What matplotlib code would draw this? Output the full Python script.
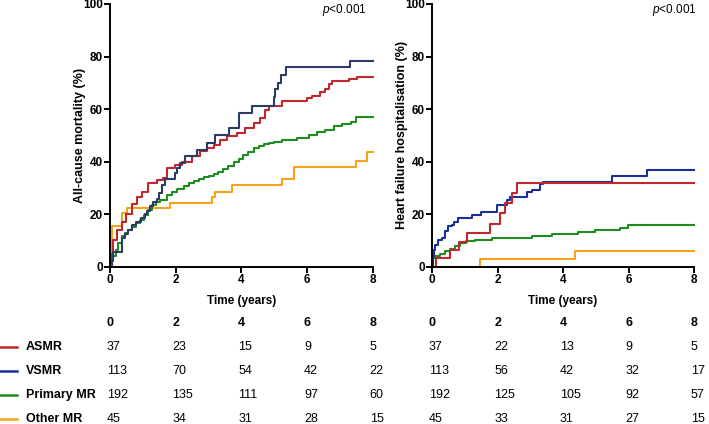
import matplotlib
matplotlib.use("Agg")
import matplotlib.pyplot as plt
from matplotlib.lines import Line2D
import matplotlib.transforms as mtransforms

plt.rcParams['font.family'] = ['Liberation Sans', 'DejaVu Sans']
plt.rcParams['mathtext.fontset'] = 'custom'
plt.rcParams['mathtext.it'] = 'Liberation Sans:italic'
plt.rcParams['mathtext.rm'] = 'Liberation Sans'

# ---------------- data ----------------
groups = ["ASMR", "VSMR", "Primary MR", "Other MR"]
colors_left = ["#C1272D", "#2B3B66", "#1E8C1E", "#F7A21B"]
colors_right = ["#C1272D", "#1A2F9C", "#1E8C1E", "#F7A21B"]

# All-cause mortality (%)
asmr_mort_t = [0, 0.03, 0.1, 0.2, 0.35, 0.5, 0.66, 0.82, 0.97, 1.17, 1.42, 1.62, 1.73, 1.98, 2.19, 2.5,
               2.75, 2.95, 3.15, 3.35, 3.55, 3.86, 4.1, 4.37, 4.55, 4.7, 4.83, 5.23, 6.0, 6.15, 6.4, 6.55,
               6.66, 6.76, 7.27, 7.52, 8.0]
asmr_mort_v = [0, 5, 10, 14, 17, 20, 24, 26.7, 28.6, 31.8, 33, 33.7, 37.6, 38.6, 40, 42,
               44, 45.2, 46.4, 48.4, 49.6, 51, 52.8, 54.7, 56.6, 59.8, 61.3, 63, 64.3, 64.8, 66.4, 67.6,
               69.5, 70.8, 71.5, 72.2, 72.2]

vsmr_mort_t = [0, 0.05, 0.1, 0.36, 0.45, 0.55, 0.66, 0.8, 0.95, 1.05, 1.12, 1.22, 1.32, 1.42, 1.5, 1.58,
               1.68, 1.98, 2.05, 2.13, 2.29, 2.64, 2.95, 3.2, 3.61, 3.91, 4.32, 4.98, 5.03, 5.1, 5.2, 5.35,
               7.29, 8.0]
vsmr_mort_v = [0, 2, 5.5, 11, 12.5, 14, 16, 17.2, 18.6, 20, 21.1, 23, 24.5, 25.6, 28, 31,
               33.5, 35.6, 37.5, 39.4, 42, 44.5, 47, 50.3, 52.8, 58.5, 61.2, 64.5, 67.5, 70, 73, 75.9,
               78.3, 78.3]

prim_mort_t = [0, 0.03, 0.1, 0.18, 0.25, 0.36, 0.45, 0.55, 0.66, 0.8, 0.9, 1.02, 1.15, 1.27, 1.4, 1.52,
               1.73, 1.88, 2.05, 2.26, 2.4, 2.54, 2.7, 2.85, 3.0, 3.15, 3.3, 3.45, 3.6, 3.76, 3.91, 4.06,
               4.2, 4.37, 4.52, 4.68, 4.83, 5.0, 5.23, 5.69, 6.05, 6.3, 6.55, 6.81, 7.05, 7.32, 7.47, 8.0]
prim_mort_v = [0, 2, 4, 6.4, 8.9, 11.5, 13, 14, 15.3, 16.6, 17.8, 19.7, 21.6, 23.5, 24.5, 25.5,
               27.2, 28.3, 29.5, 30.7, 31.8, 32.7, 33.3, 34.1, 34.6, 35.4, 36.2, 37.3, 38.4, 39.7, 41.1, 42.5,
               43.8, 45.0, 46.0, 46.8, 47.1, 47.5, 48.4, 49.0, 50.3, 51.2, 52.2, 53.4, 54.5, 55.0, 57.0, 57.0]

other_mort_t = [0, 0.02, 0.06, 0.36, 0.51, 1.83, 3.1, 3.2, 3.72, 5.23, 5.59, 7.47, 7.83, 8.0]
other_mort_v = [0, 10, 15.5, 20.4, 22.3, 24.4, 26.7, 28.6, 31.2, 33.3, 37.9, 40.1, 43.5, 43.5]

# Heart failure hospitalisation (%)
asmr_hf_t = [0, 0.13, 0.56, 0.81, 1.07, 1.78, 2.08, 2.24, 2.44, 2.59, 8.0]
asmr_hf_v = [0, 3.2, 6.4, 9.5, 12.8, 16.3, 20.4, 24.2, 28, 32.0, 32.0]

vsmr_hf_t = [0, 0.02, 0.05, 0.1, 0.19, 0.3, 0.4, 0.5, 0.6, 0.66, 0.8, 1.21, 1.51, 1.97, 2.28, 2.38,
             2.9, 3.05, 3.29, 3.4, 5.49, 6.57, 8.0]
vsmr_hf_v = [0, 3.8, 6.4, 8.3, 10.2, 11, 13.4, 15.4, 16, 17.2, 18.6, 19.8, 21, 23.5, 25.4, 26.7,
             28.3, 29.3, 31.3, 32.4, 34.6, 36.7, 36.7]

prim_hf_t = [0, 0.03, 0.1, 0.25, 0.4, 0.55, 0.7, 0.85, 1.05, 1.3, 1.82, 3.04, 3.65, 4.47, 4.98, 5.74, 5.99, 8.0]
prim_hf_v = [0, 3.2, 4.1, 4.9, 5.9, 6.9, 7.9, 9.0, 9.8, 10.3, 10.9, 11.7, 12.4, 13.1, 14.0, 14.9, 15.9, 15.9]

other_hf_t = [0, 1.47, 4.37, 8.0]
other_hf_v = [0, 2.9, 6.0, 6.0]

# Numbers at risk
risk_times = [0, 2, 4, 6, 8]
risk_mort = {
    "ASMR": [37, 23, 15, 9, 5],
    "VSMR": [113, 70, 54, 42, 22],
    "Primary MR": [192, 135, 111, 97, 60],
    "Other MR": [45, 34, 31, 28, 15],
}
risk_hf = {
    "ASMR": [37, 22, 13, 9, 5],
    "VSMR": [113, 56, 42, 32, 17],
    "Primary MR": [192, 125, 105, 92, 57],
    "Other MR": [45, 33, 31, 27, 15],
}

xticks = [0, 2, 4, 6, 8]
yticks = [0, 20, 40, 60, 80, 100]

# ---------------- figure ----------------
W, H = 709, 424
fig = plt.figure(figsize=(W / 100, H / 100), dpi=100)

def px_axes(x0, x1, ytop, ybot):
    return [x0 / W, 1 - ybot / H, (x1 - x0) / W, (ybot - ytop) / H]

ax1 = fig.add_axes(px_axes(110, 373, 4, 266.7))
ax2 = fig.add_axes(px_axes(432, 694, 4, 266.7))

mort_series = [(asmr_mort_t, asmr_mort_v), (vsmr_mort_t, vsmr_mort_v),
               (prim_mort_t, prim_mort_v), (other_mort_t, other_mort_v)]
hf_series = [(asmr_hf_t, asmr_hf_v), (vsmr_hf_t, vsmr_hf_v),
             (prim_hf_t, prim_hf_v), (other_hf_t, other_hf_v)]

for i in [3, 2, 0, 1]:
    t, v = mort_series[i]
    ax1.step(t, v, where='post', color=colors_left[i], lw=1.5, clip_on=False)
for i in [3, 2, 1, 0]:
    t, v = hf_series[i]
    ax2.step(t, v, where='post', color=colors_right[i], lw=1.5, clip_on=False)

for ax, ylabel in [(ax1, "All-cause mortality (%)"), (ax2, "Heart failure hospitalisation (%)")]:
    ax.set_xlim(0, 8)
    ax.set_ylim(0, 100)
    ax.set_xticks(xticks)
    ax.set_yticks(yticks)
    for s in ['top', 'right']:
        ax.spines[s].set_visible(False)
    for s in ['left', 'bottom']:
        ax.spines[s].set_linewidth(1.4)
    ax.tick_params(width=1.4, length=4.5, labelsize=8.5)
    ax.tick_params(axis='y', pad=0.5)
    ax.tick_params(axis='x', pad=1)
    for lab in ax.get_xticklabels() + ax.get_yticklabels():
        lab.set_fontweight('bold')
    ax.set_xlabel("Time (years)", fontsize=8.5, fontweight='bold', labelpad=6)
    ax.set_ylabel(ylabel, fontsize=9, fontweight='bold', va='center')
    ax.yaxis.set_label_coords(-0.114, 0.5)

# p-values
fig.text(367 / W, 1 - 10 / H, r"$\mathit{p}$<0.001", ha='right', va='center', fontsize=8.5)
fig.text(697 / W, 1 - 10 / H, r"$\mathit{p}$<0.001", ha='right', va='center', fontsize=8.5)

# ---------------- risk table ----------------
header_y = 323
row_ys = [347, 371, 395, 419]

for ax, risk in [(ax1, risk_mort), (ax2, risk_hf)]:
    trans = mtransforms.blended_transform_factory(ax.transData, fig.transFigure)
    for tt in risk_times:
        ax.text(tt - 0.1, 1 - header_y / H, str(tt), transform=trans, ha='left', va='center',
                fontsize=9, fontweight='bold', clip_on=False)
    for g, ry in zip(groups, row_ys):
        for tt, n in zip(risk_times, risk[g]):
            ax.text(tt - 0.1, 1 - ry / H, str(n), transform=trans, ha='left', va='center',
                    fontsize=9, clip_on=False)

for g, ry, c in zip(groups, row_ys, colors_right):
    fig.add_artist(Line2D([0, 17 / W], [1 - ry / H, 1 - ry / H], color=c, lw=1.8,
                          transform=fig.transFigure))
    fig.text(26 / W, 1 - ry / H, g, ha='left', va='center', fontsize=9, fontweight='bold')

fig.savefig("out.png", dpi=100)
